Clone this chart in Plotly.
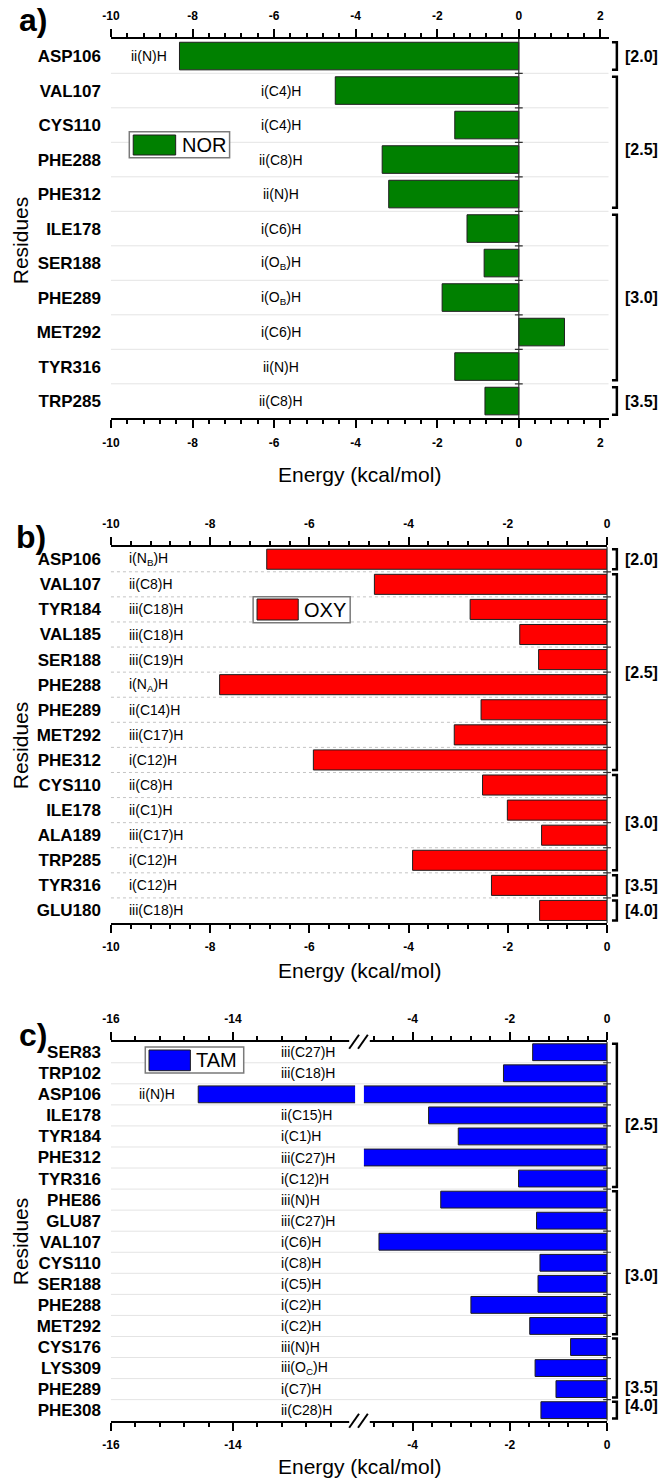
import plotly.graph_objects as go

W, H = 664, 1479

# ---------------- data ----------------
a_residues = ["ASP106", "VAL107", "CYS110", "PHE288", "PHE312", "ILE178",
              "SER188", "PHE289", "MET292", "TYR316", "TRP285"]
a_energy = [-8.32, -4.50, -1.57, -3.35, -3.19, -1.27, -0.85, -1.88, 1.12, -1.57, -0.83]
a_interaction = ["ii(N)H", "i(C4)H", "i(C4)H", "ii(C8)H", "ii(N)H", "i(C6)H",
                 "i(O<sub>B</sub>)H", "i(O<sub>B</sub>)H", "i(C6)H", "ii(N)H", "ii(C8)H"]
a_distance = ["[2.0]", "[2.5]", "[3.0]", "[3.5]"]
a_distance_rows = [(0, 0), (1, 4), (5, 9), (10, 10)]
a_xticks = [-10, -8, -6, -4, -2, 0, 2]

b_residues = ["ASP106", "VAL107", "TYR184", "VAL185", "SER188", "PHE288", "PHE289",
              "MET292", "PHE312", "CYS110", "ILE178", "ALA189", "TRP285", "TYR316", "GLU180"]
b_energy = [-6.86, -4.69, -2.76, -1.76, -1.38, -7.81, -2.54, -3.08, -5.92,
            -2.51, -2.01, -1.32, -3.92, -2.33, -1.36]
b_interaction = ["i(N<sub>B</sub>)H", "ii(C8)H", "iii(C18)H", "iii(C18)H", "iii(C19)H",
                 "i(N<sub>A</sub>)H", "ii(C14)H", "iii(C17)H", "i(C12)H", "ii(C8)H",
                 "ii(C1)H", "iii(C17)H", "i(C12)H", "i(C12)H", "iii(C18)H"]
b_distance = ["[2.0]", "[2.5]", "[3.0]", "[3.5]", "[4.0]"]
b_distance_rows = [(0, 0), (1, 8), (9, 12), (13, 13), (14, 14)]
b_xticks = [-10, -8, -6, -4, -2, 0]

c_residues = ["SER83", "TRP102", "ASP106", "ILE178", "TYR184", "PHE312", "TYR316",
              "PHE86", "GLU87", "VAL107", "CYS110", "SER188", "PHE288", "MET292",
              "CYS176", "LYS309", "PHE289", "PHE308"]
c_energy = [-1.53, -2.13, -14.57, -3.67, -3.06, -5.05, -1.82, -3.42, -1.45, -4.69,
            -1.38, -1.42, -2.80, -1.59, -0.75, -1.48, -1.05, -1.36]
c_interaction = ["iii(C27)H", "iii(C18)H", "ii(N)H", "ii(C15)H", "i(C1)H", "iii(C27)H",
                 "i(C12)H", "iii(N)H", "iii(C27)H", "i(C6)H", "i(C8)H", "i(C5)H",
                 "i(C2)H", "i(C2)H", "iii(N)H", "iii(O<sub>C</sub>)H", "i(C7)H", "ii(C28)H"]
c_distance = ["[2.5]", "[3.0]", "[3.5]", "[4.0]"]
c_distance_rows = [(0, 6), (7, 13), (14, 16), (17, 17)]
c_xticks_left = [-16, -14]
c_xticks_right = [-4, -2, 0]

# ---------------- helpers ----------------
FONT = "Liberation Sans, Arial, Helvetica, sans-serif"


def X(px):
    return px / W


def Y(py):
    return 1 - py / H


def v2px(v, seg):
    r0, r1 = seg["range"]
    p0, p1 = seg["px"]
    return p0 + (v - r0) / (r1 - r0) * (p1 - p0)


def bar_left_px(v, segs):
    v = min(v, 0)
    for i in range(len(segs) - 1, -1, -1):
        seg = segs[i]
        if v >= seg["range"][0]:
            return v2px(v, seg)
        if i == 0 or v > segs[i - 1]["range"][1]:
            return seg["px"][0]
    return segs[0]["px"][0]


fig = go.Figure()
layout = {}
shapes = []
annos = []


def xaxis_def(seg, yid, side):
    ticks = seg["ticks"]
    return dict(
        domain=[X(seg["px"][0]), X(seg["px"][1])], range=seg["range"], anchor=yid, side=side,
        showline=True, linecolor="black", linewidth=2,
        tickmode="array", tickvals=ticks, ticktext=[str(t) for t in ticks],
        ticks="outside", ticklen=8, tickwidth=1.6, tickcolor="black",
        tickfont=dict(family=FONT, size=12, color="black", weight="bold"),
        ticklabelstandoff=4,
        minor=dict(tickmode="linear", dtick=0.4, tick0=0, ticks="outside", ticklen=4,
                   tickwidth=1.6, tickcolor="black", showgrid=False),
        showgrid=False, zeroline=False, fixedrange=True,
    )


def build(p):
    n = len(p["residues"])
    rows = list(range(n))
    yid = p["y"]
    segs = p["segs"]
    y0px, y1px = p["ypx"]
    layout["yaxis" + yid[1:]] = dict(
        domain=[Y(y1px), Y(y0px)], range=[n - 0.5, -0.5], anchor=segs[0]["xb"],
        tickmode="array", tickvals=rows, ticktext=p["residues"], ticks="",
        showline=False, showgrid=False, zeroline=False, ticklabelstandoff=9,
        tickfont=dict(family=FONT, size=17, color="black", weight="bold"), fixedrange=True,
    )
    for seg in segs:
        xb, xt = seg["xb"], seg["xt"]
        layout["xaxis" + xb[1:]] = xaxis_def(seg, yid, "bottom")
        top = xaxis_def(seg, yid, "top")
        top["overlaying"] = xb
        layout["xaxis" + xt[1:]] = top
        fig.add_trace(go.Bar(
            x=p["energy"], y=rows, orientation="h", xaxis=xb, yaxis=yid, width=0.8,
            marker=dict(color=p["color"], line=dict(color="#1e1e1e", width=1)),
            showlegend=False, hoverinfo="skip"))
        fig.add_trace(go.Scatter(x=[], y=[], xaxis=xt, yaxis=yid, showlegend=False))

    left_px = segs[0]["px"][0]
    right_px = segs[-1]["px"][1]
    zero_px = v2px(0, segs[-1])

    # row separators and ticks on the zero line
    for k in range(n - 1):
        shapes.append(dict(type="line", xref="paper", yref=yid, x0=X(left_px), x1=X(right_px),
                           y0=k + 0.5, y1=k + 0.5, layer="below",
                           line=dict(color=p["grid_color"], width=1, dash=p["grid_dash"])))
        shapes.append(dict(type="line", xref="paper", yref=yid, x0=X(zero_px - 4), x1=X(zero_px + 4),
                           y0=k + 0.5, y1=k + 0.5, line=dict(color="#303030", width=1.2)))
    shapes.append(dict(type="line", xref="paper", yref=yid, x0=X(zero_px), x1=X(zero_px),
                       y0=-0.5, y1=n - 0.5, line=dict(color="#303030", width=1.2)))

    # interaction labels
    for i, (lab, v) in enumerate(zip(p["interaction"], p["energy"])):
        if bar_left_px(v, segs) < p["lab_clear"]:
            lx, anc = p["lab_alt"]
        else:
            lx, anc = p["lab_def"]
        annos.append(dict(x=X(lx), xref="paper", y=i, yref=yid, text=lab, showarrow=False,
                          xanchor=anc, yanchor="middle",
                          font=dict(family=FONT, size=14, color="black")))

    # distance brackets
    bx, sx = 620, 615
    for j, ((r0, r1), lab) in enumerate(zip(p["dist_rows"], p["distance"])):
        t, b = r0 - 0.4, r1 + 0.4
        path = f"M {X(sx)},{t} L {X(bx)},{t} L {X(bx)},{b} L {X(sx)},{b}"
        shapes.append(dict(type="path", xref="paper", yref=yid, path=path,
                           line=dict(color="black", width=2.5)))
        annos.append(dict(x=X(626), xref="paper", y=(r0 + r1) / 2 + p["dist_shift"][j], yref=yid,
                          text=lab, showarrow=False, xanchor="left", yanchor="middle",
                          font=dict(family=FONT, size=16, color="black", weight="bold")))

    # legend
    bx0, by0, bx1, by1 = p["legend_box"]
    shapes.append(dict(type="rect", xref="paper", yref="paper", x0=X(bx0), x1=X(bx1), y0=Y(by1), y1=Y(by0),
                       fillcolor="white", line=dict(color="#7a7a7a", width=1.5)))
    px0, py0, px1, py1 = p["legend_patch"]
    shapes.append(dict(type="rect", xref="paper", yref="paper", x0=X(px0), x1=X(px1), y0=Y(py1), y1=Y(py0),
                       fillcolor=p["color"], line=dict(color="#1e1e1e", width=1)))
    annos.append(dict(x=X(px1 + 4), xref="paper", y=Y((by0 + by1) / 2), yref="paper", text=p["name"],
                      showarrow=False, xanchor="left", yanchor="middle",
                      font=dict(family=FONT, size=20, color="black")))

    # titles
    lx, ly = p["letter_pos"]
    annos.append(dict(x=X(lx), y=Y(ly), xref="paper", yref="paper", text=p["letter"], showarrow=False,
                      xanchor="center", yanchor="middle",
                      font=dict(family=FONT, size=32, color="black", weight="bold")))
    annos.append(dict(x=X((left_px + right_px) / 2), y=Y(p["title_y"]), xref="paper", yref="paper",
                      text="Energy (kcal/mol)", showarrow=False, xanchor="center", yanchor="middle",
                      font=dict(family=FONT, size=21, color="black")))
    annos.append(dict(x=X(11.5), y=Y(p["resid_y"]), xref="paper", yref="paper", text="Residues",
                      textangle=-90, showarrow=False, xanchor="center", yanchor="middle",
                      font=dict(family=FONT, size=21, color="black")))


panels = [
    dict(residues=a_residues, energy=a_energy, interaction=a_interaction, distance=a_distance,
         dist_rows=a_distance_rows, dist_shift=[0, 0.2, 0, 0], color="#008000", name="NOR", y="y",
         ypx=(38.8, 418.3),
         segs=[dict(range=[-10, 2.2], px=(104, 611.5), xb="x", xt="x2", ticks=a_xticks)],
         grid_color="#e4e4e4", grid_dash="solid",
         lab_def=(277, "center"), lab_alt=(143, "center"), lab_clear=315,
         legend_box=(122.7, 131.7, 225, 157.7), legend_patch=(126.7, 135, 170, 155),
         letter="a)", letter_pos=(24, 20), title_y=474, resid_y=240),
    dict(residues=b_residues, energy=b_energy, interaction=b_interaction, distance=b_distance,
         dist_rows=b_distance_rows, dist_shift=[0, 0, 0, 0, 0], color="#FF0000", name="OXY", y="y2",
         ypx=(546.7, 923),
         segs=[dict(range=[-10, 0], px=(104, 610), xb="x3", xt="x4", ticks=b_xticks)],
         grid_color="#c4c4c4", grid_dash="dot",
         lab_def=(120, "left"), lab_alt=(120, "left"), lab_clear=0,
         legend_box=(249, 596.7, 348, 622.7), legend_patch=(253, 599, 295, 620),
         letter="b)", letter_pos=(22, 537), title_y=970, resid_y=745),
    dict(residues=c_residues, energy=c_energy, interaction=c_interaction, distance=c_distance,
         dist_rows=c_distance_rows, dist_shift=[0.45, 0.6, 0.9, -0.2], color="#0000FF", name="TAM",
         y="y3", ypx=(1041.7, 1420.7),
         segs=[dict(range=[-16, -12], px=(104, 353), xb="x5", xt="x6", ticks=c_xticks_left),
               dict(range=[-5, 0], px=(362, 610), xb="x7", xt="x8", ticks=c_xticks_right)],
         grid_color="#e4e4e4", grid_dash="solid",
         lab_def=(275, "left"), lab_alt=(131, "left"), lab_clear=345,
         legend_box=(139, 1047, 239.4, 1073), legend_patch=(142.8, 1050, 185, 1070.7),
         letter="c)", letter_pos=(24, 1035), title_y=1466.7, resid_y=1241),
]

for p in panels:
    build(p)

# axis break marks for panel c
for ay, up in ((1041.7, True), (1420.7, False)):
    if up:
        shapes.append(dict(type="rect", xref="paper", yref="paper", x0=X(347), x1=X(368),
                           y0=Y(ay + 3), y1=Y(ay - 10), fillcolor="white", line=dict(width=0)))
    else:
        shapes.append(dict(type="rect", xref="paper", yref="paper", x0=X(347), x1=X(368),
                           y0=Y(ay + 10), y1=Y(ay - 3), fillcolor="white", line=dict(width=0)))
    for sx in (347, 356):
        shapes.append(dict(type="line", xref="paper", yref="paper", x0=X(sx), y0=Y(ay + 7),
                           x1=X(sx + 10), y1=Y(ay - 7), line=dict(color="black", width=2)))

fig.update_layout(
    width=W, height=H, autosize=False,
    margin=dict(l=0, r=0, t=0, b=0),
    paper_bgcolor="white", plot_bgcolor="rgba(0,0,0,0)",
    barmode="overlay", showlegend=False,
    shapes=shapes, annotations=annos,
    **layout,
)

fig.write_html("out.html")
